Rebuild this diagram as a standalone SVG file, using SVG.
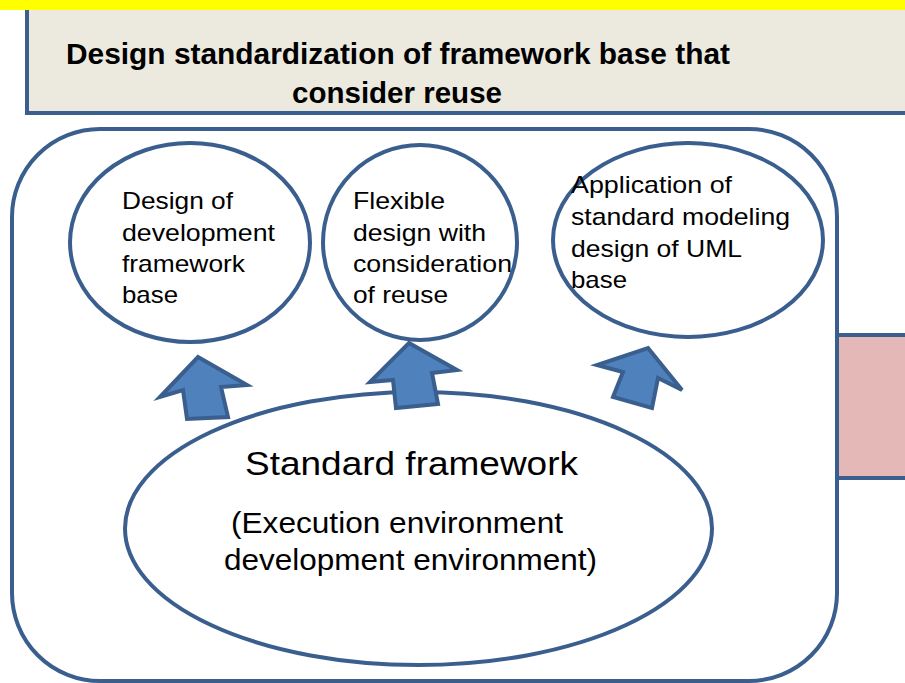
<svg xmlns="http://www.w3.org/2000/svg" width="905" height="683" viewBox="0 0 905 683">
<style>
.ln{fill:none;stroke:#3A5F8E;stroke-width:4}
.wf{fill:#FFFFFF;stroke:#3A5F8E;stroke-width:4}
.ar{fill:#4F81BD;stroke:#3A5F8E;stroke-width:4;stroke-linejoin:miter}
.t{font-family:"Liberation Sans",Arial,sans-serif;fill:#000000}
.s{font-size:24px}
</style>
<rect x="0" y="0" width="905" height="683" fill="#FFFFFF"/>
<g id="title">
<rect x="27" y="4" width="900" height="109" fill="#ECEADF" stroke="#3A5F8E" stroke-width="4"/>
<rect x="0" y="0" width="905" height="10" fill="#FFFF00"/>
<text class="t" x="66" y="64" font-size="29" font-weight="bold" textLength="664" lengthAdjust="spacingAndGlyphs">Design standardization of framework base that</text>
<text class="t" x="292" y="103" font-size="29" font-weight="bold" textLength="210" lengthAdjust="spacingAndGlyphs">consider reuse</text>
</g>
<g id="sidebox">
<rect x="837" y="335" width="80" height="143" fill="#E5B8B8" stroke="#3A5F8E" stroke-width="4"/>
</g>
<g id="container">
<rect x="12" y="129" width="825" height="552" rx="88" ry="88" class="wf"/>
</g>
<g id="node1">
<ellipse cx="190" cy="242.5" rx="120" ry="99.5" class="wf"/>
<text class="t s" x="122" y="209" textLength="111" lengthAdjust="spacingAndGlyphs">Design of</text>
<text class="t s" x="122" y="241" textLength="153" lengthAdjust="spacingAndGlyphs">development</text>
<text class="t s" x="122" y="272" textLength="123" lengthAdjust="spacingAndGlyphs">framework</text>
<text class="t s" x="122" y="303" textLength="56" lengthAdjust="spacingAndGlyphs">base</text>
</g>
<g id="node2">
<ellipse cx="420" cy="242.5" rx="97" ry="97.5" class="wf"/>
<text class="t s" x="353" y="209" textLength="92" lengthAdjust="spacingAndGlyphs">Flexible</text>
<text class="t s" x="353" y="241" textLength="133" lengthAdjust="spacingAndGlyphs">design with</text>
<text class="t s" x="353" y="272" textLength="159" lengthAdjust="spacingAndGlyphs">consideration</text>
<text class="t s" x="353" y="303" textLength="95" lengthAdjust="spacingAndGlyphs">of reuse</text>
</g>
<g id="node3">
<ellipse cx="688" cy="240" rx="135" ry="97" class="wf"/>
<text class="t s" x="571" y="193" textLength="161" lengthAdjust="spacingAndGlyphs">Application of</text>
<text class="t s" x="571" y="225" textLength="219" lengthAdjust="spacingAndGlyphs">standard modeling</text>
<text class="t s" x="571" y="257" textLength="171" lengthAdjust="spacingAndGlyphs">design of UML</text>
<text class="t s" x="571" y="288" textLength="56" lengthAdjust="spacingAndGlyphs">base</text>
</g>
<g id="node4">
<ellipse cx="418.5" cy="528.5" rx="293.5" ry="136.5" class="wf"/>
<text class="t" x="245" y="475" font-size="33" textLength="333" lengthAdjust="spacingAndGlyphs">Standard framework</text>
<text class="t" x="231" y="533" font-size="29" textLength="332" lengthAdjust="spacingAndGlyphs">(Execution environment</text>
<text class="t" x="224" y="570" font-size="29" textLength="373" lengthAdjust="spacingAndGlyphs">development environment)</text>
</g>
<g id="connectors">
<polygon class="ar" points="198,357 247,385 221,387 228,417 187,419 183,390 160,397"/>
<polygon class="ar" points="409,343 457,370 432,373 438,404 396,408 393,380 370,382"/>
<polygon class="ar" points="648,348 682,390 658,378 652,408 613,397 623,372 597,365"/>
</g>
</svg>
